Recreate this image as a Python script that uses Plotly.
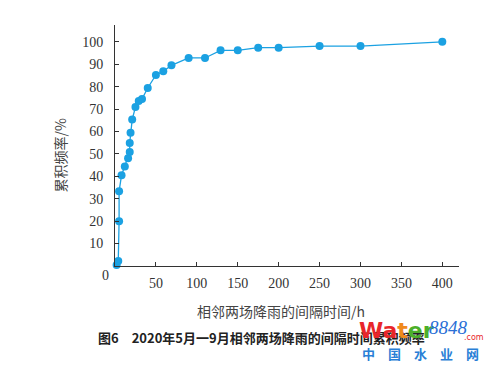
import plotly.graph_objects as go

interval_h = [2, 4, 5, 5, 8, 12, 16, 18, 18, 19, 21, 25, 29, 33, 40, 50, 59, 69, 90, 110, 129, 150, 175, 200, 250, 300, 400]
cum_freq = [0.5, 2.2, 20.0, 33.3, 40.5, 44.4, 48.1, 50.9, 54.9, 59.4, 65.3, 70.9, 73.6, 74.5, 79.4,
            85.2, 86.9, 89.5, 92.8, 92.8, 96.2, 96.2, 97.4, 97.4, 98.1, 98.1, 100.0]
x_ticks = [50, 100, 150, 200, 250, 300, 350, 400]
y_ticks = [10, 20, 30, 40, 50, 60, 70, 80, 90, 100]

blue = "#1ba1e2"
serif = "Liberation Serif, Times New Roman, serif"
cjk = "Noto Sans CJK SC"

fig = go.Figure()
fig.add_trace(go.Scatter(
    x=interval_h, y=cum_freq, mode="lines+markers",
    line=dict(color=blue, width=1.3),
    marker=dict(color=blue, size=8),
    showlegend=False, cliponaxis=False,
))

fig.update_layout(
    width=488, height=366,
    margin=dict(l=114.7, r=28.7, t=24.7, b=100),
    paper_bgcolor="white", plot_bgcolor="white",
    xaxis=dict(range=[0, 420.4], tickvals=x_ticks, ticks="inside", ticklen=4,
               tickcolor="#333", showline=True, linecolor="#333", linewidth=1,
               showgrid=False, zeroline=False,
               tickfont=dict(family=serif, size=14, color="#333"),
               ticklabelstandoff=4),
    yaxis=dict(range=[0, 107.5], tickvals=y_ticks, ticks="inside", ticklen=4,
               tickcolor="#333", showline=True, linecolor="#333", linewidth=1,
               showgrid=False, zeroline=False,
               tickfont=dict(family=serif, size=14, color="#333"),
               ticklabelstandoff=8),
)

W = 488 - 114.7 - 28.7
H = 366 - 24.7 - 100

def px(x):
    return (x - 114.7) / W

def py(y):
    return (266 - y) / H

annos = [
    dict(text="0", x=px(105), y=py(276), font=dict(family=serif, size=14, color="#333")),
    dict(text="相邻两场降雨的间隔时间/h", x=px(281), y=py(311), font=dict(family=cjk, size=14, color="#444")),
    dict(text="累积频率/%", x=px(60), y=py(155), textangle=-90, font=dict(family=cjk, size=14, color="#444")),
    dict(text="<b>图6　2020年5月一9月相邻两场降雨的间隔时间累积频率</b>", x=px(261), y=py(338),
         font=dict(family=cjk, size=13, color="#222")),
    dict(text="<b><span style='color:#e8262a'>Wa</span><span style='color:#f08a1c'>t</span><span style='color:#4caf2a'>er</span></b>",
         x=px(397), y=py(331), font=dict(family="DejaVu Sans", size=22)),
    dict(text="<i>8848</i>", x=px(449), y=py(328), font=dict(family=serif, size=19, color="#2a6fd6")),
    dict(text=".com", x=px(474), y=py(338), font=dict(family="DejaVu Sans", size=8, color="#e8262a")),
    dict(text="<b>中　国　水　业　网</b>", x=px(421), y=py(354), font=dict(family=cjk, size=13, color="#2a7fd6")),
]
for a in annos:
    a.update(xref="paper", yref="paper", showarrow=False, xanchor="center", yanchor="middle")
    fig.add_annotation(**a)

fig.write_html("out.html", config={"displayModeBar": False},
               post_script="document.body.style.margin='0';")
